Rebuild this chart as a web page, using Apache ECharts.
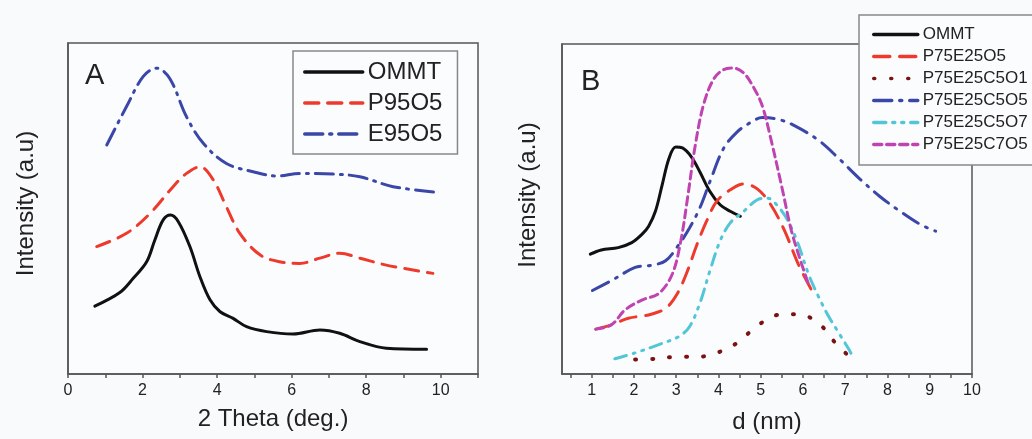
<!DOCTYPE html>
<html>
<head>
<meta charset="utf-8">
<script src="https://cdn.jsdelivr.net/npm/echarts@6/dist/echarts.min.js"></script>
<style>
html,body{margin:0;padding:0;background:#f9fafc;}
#c{width:1032px;height:439px;}
</style>
</head>
<body>
<div id="c"></div>
<script>
// ---------- Panel A data: [2 Theta (deg.), intensity (a.u.)] ----------
const ommtA = [[0.72,20.5],[1.39,24.6],[1.75,28.9],[2.11,33.9],[2.33,40.5],[2.55,46.5],[2.75,48.0],[2.96,46.0],[3.27,38.5],[3.54,29.4],[3.81,22.4],[4.08,18.8],[4.43,16.8],[4.79,14.3],[5.33,12.8],[6.04,12.1],[6.76,13.3],[7.29,12.3],[7.83,9.8],[8.54,7.8],[9.62,7.5]];
const p95o5 = [[0.77,38.5],[1.57,42.5],[2.2,48.5],[2.82,56.6],[3.18,60.6],[3.54,62.6],[3.9,58.6],[4.25,50.5],[4.61,42.5],[5.15,36.0],[5.68,33.9],[6.22,33.4],[6.76,35.0],[7.29,36.5],[7.83,35.0],[8.54,32.9],[9.79,30.4]];
const e95o5 = [[1.04,69.2],[1.57,80.8],[2.02,89.9],[2.38,92.4],[2.73,89.3],[3.18,77.7],[3.63,69.7],[4.25,63.6],[4.97,61.1],[5.6,59.8],[6.22,60.6],[7.11,60.4],[7.83,59.6],[8.72,56.6],[9.97,54.8]];

// ---------- Panel B data: [d (nm), intensity (a.u.)] ----------
const ommtB = [[0.97,36.3],[1.23,37.6],[1.63,38.3],[1.95,39.8],[2.19,42.3],[2.35,44.8],[2.51,49.3],[2.67,57.3],[2.83,65.3],[2.99,68.8],[3.15,68.5],[3.36,65.8],[3.56,61.3],[3.8,55.3],[4.04,51.3],[4.28,49.3],[4.52,47.8]];
const p75e25o5 = [[1.1,13.6],[1.47,14.9],[1.87,16.9],[2.35,17.9],[2.75,19.9],[3.03,24.4],[3.27,31.3],[3.48,38.8],[3.72,46.3],[3.96,52.3],[4.28,55.8],[4.6,57.6],[4.92,56.1],[5.24,51.3],[5.57,43.3],[5.89,33.3],[6.21,25.3]];
const p75e25c5o1 = [[2.03,4.4],[2.51,4.6],[3.03,5.2],[3.52,5.2],[4.0,6.6],[4.44,9.4],[4.92,14.6],[5.41,17.9],[5.89,18.1],[6.37,15.4],[6.77,9.4],[7.21,3.9]];
const p75e25c5o5 = [[1.02,25.3],[1.47,28.3],[2.03,32.3],[2.43,33.0],[2.75,34.3],[3.07,39.3],[3.32,44.3],[3.56,50.3],[3.8,58.3],[4.12,68.3],[4.44,73.3],[4.76,76.2],[5.04,77.7],[5.41,77.2],[5.81,75.2],[6.37,70.8],[6.85,65.3],[7.33,59.3],[7.82,53.8],[8.3,49.3],[8.78,45.3],[9.14,43.3]];
const p75e25c5o7 = [[1.55,4.6],[2.03,6.4],[2.59,8.9],[3.07,11.4],[3.32,14.4],[3.56,21.4],[3.8,31.3],[4.04,40.3],[4.28,45.8],[4.6,49.3],[4.92,52.8],[5.16,53.3],[5.41,50.8],[5.65,46.3],[5.89,39.3],[6.13,30.3],[6.37,23.4],[6.61,17.4],[6.85,12.4],[7.09,7.4],[7.21,4.4]];
const p75e25c7o5 = [[1.1,13.6],[1.47,14.9],[1.79,19.4],[2.19,22.4],[2.59,24.4],[2.91,30.3],[3.11,40.3],[3.27,53.3],[3.44,68.3],[3.64,81.2],[3.88,89.2],[4.12,92.2],[4.36,92.7],[4.6,91.2],[4.84,86.7],[5.04,81.2],[5.24,71.3],[5.49,57.3],[5.73,43.3],[5.97,33.3],[6.13,27.3]];

// ---------- tick labels ----------
const ticksA = [0, 2, 4, 6, 8, 10];
const minorTicksA = [0,1,2,3,4,5,6,7,8,9,10,11];
const ticksB = [1,2,3,4,5,6,7,8,9,10];
const minorTicksB = [0.5,1,1.5,2,2.5,3,3.5,4,4.5,5,5.5,6,6.5,7,7.5,8,8.5,9,9.5,10];

const FONT = "'Liberation Sans', Arial, sans-serif";
const AX = '#555';

function xAxisCfg(gi, min, max, name, labels, ticks, gap) {
  return {
    type: 'value', gridIndex: gi, min: min, max: max,
    name: name, nameLocation: 'middle', nameGap: gap,
    nameTextStyle: {fontFamily: FONT, fontSize: 24, color: '#222'},
    axisLine: {show: true, onZero: false, lineStyle: {color: AX, width: 1.5}},
    axisTick: {show: true, customValues: ticks, length: 4, lineStyle: {color: AX, width: 1.5}},
    axisLabel: {customValues: labels, fontFamily: FONT, fontSize: 16, color: '#222', margin: 9},
    splitLine: {show: false}
  };
}
function yAxisCfg(gi, gap, shift) {
  return {
    type: 'value', gridIndex: gi, min: 0, max: 100,
    name: 'Intensity (a.u)', nameLocation: 'middle', nameGap: gap,
    nameTextStyle: {fontFamily: FONT, fontSize: 24, color: '#222', padding: [0, 0, 0, shift]},
    axisLine: {show: true, lineStyle: {color: AX, width: 1.5}},
    axisTick: {show: false}, axisLabel: {show: false}, splitLine: {show: false}
  };
}
function line(name, data, xi, color, dash, width) {
  return {
    name: name, type: 'line', xAxisIndex: xi, yAxisIndex: xi, data: data,
    symbol: 'none', smooth: 0.35,
    lineStyle: {color: color, width: width || 3, type: dash, cap: 'round'},
    itemStyle: {color: color}
  };
}

const option = {
  backgroundColor: '#f9fafc',
  animation: false,
  title: [
    {text: 'A', left: 80, top: 56, textStyle: {fontFamily: FONT, fontSize: 29, fontWeight: 'normal', color: '#222'}},
    {text: 'B', left: 576, top: 62, textStyle: {fontFamily: FONT, fontSize: 29, fontWeight: 'normal', color: '#222'}}
  ],
  grid: [
    {left: 68, top: 43, width: 410, height: 331, show: true, borderColor: AX, borderWidth: 1.5, backgroundColor: '#fbfcfe'},
    {left: 562, top: 44, width: 410, height: 334, show: true, borderColor: AX, borderWidth: 1.5, backgroundColor: '#fbfcfe'}
  ],
  xAxis: [
    xAxisCfg(0, 0, 11, '2 Theta (deg.)', ticksA, minorTicksA, 33),
    xAxisCfg(1, 0.3, 10, 'd (nm)', ticksB, minorTicksB, 36)
  ],
  yAxis: [yAxisCfg(0, 30, 10), yAxisCfg(1, 22, 28)],
  legend: [
    {
      orient: 'vertical', left: 293, top: 51,
      data: ['OMMT', 'P95O5', 'E95O5'],
      itemWidth: 58, itemHeight: 14, itemGap: 7,
      padding: [9, 15, 8, 10],
      borderColor: '#888', borderWidth: 1.5, backgroundColor: '#fbfcfe',
      itemStyle: {opacity: 0},
      lineStyle: {width: 3.5},
      textStyle: {fontFamily: FONT, fontSize: 24, color: '#222'},
      selectedMode: false
    },
    {
      orient: 'vertical', left: 859, top: 15,
      data: ['OMMT', 'P75E25O5', 'P75E25C5O1', 'P75E25C5O5', 'P75E25C5O7', 'P75E25C7O5'],
      itemWidth: 44, itemHeight: 12, itemGap: 5,
      padding: [11, 30, 12, 13],
      borderColor: '#888', borderWidth: 1.5, backgroundColor: '#fbfcfe',
      itemStyle: {opacity: 0},
      lineStyle: {width: 3.5},
      textStyle: {fontFamily: FONT, fontSize: 17, color: '#222'},
      selectedMode: false
    }
  ],
  series: [
    line('OMMT', ommtA, 0, '#111111', 'solid'),
    line('P95O5', p95o5, 0, '#ee3a2c', [14, 9]),
    line('E95O5', e95o5, 0, '#3b47a8', [18, 7, 2, 7]),
    line('OMMT', ommtB, 1, '#111111', 'solid'),
    line('P75E25O5', p75e25o5, 1, '#ee3a2c', [16, 10]),
    line('P75E25C5O1', p75e25c5o1, 1, '#7a1212', [1, 16], 4),
    line('P75E25C5O5', p75e25c5o5, 1, '#3b47a8', [18, 8, 2, 8]),
    line('P75E25C5O7', p75e25c5o7, 1, '#52c6d6', [12, 7, 2, 7, 2, 7]),
    line('P75E25C7O5', p75e25c7o5, 1, '#c043b2', [8, 5])
  ]
};

const chart = echarts.init(document.getElementById('c'), null, {renderer: 'canvas'});
chart.setOption(option);
</script>
</body>
</html>
